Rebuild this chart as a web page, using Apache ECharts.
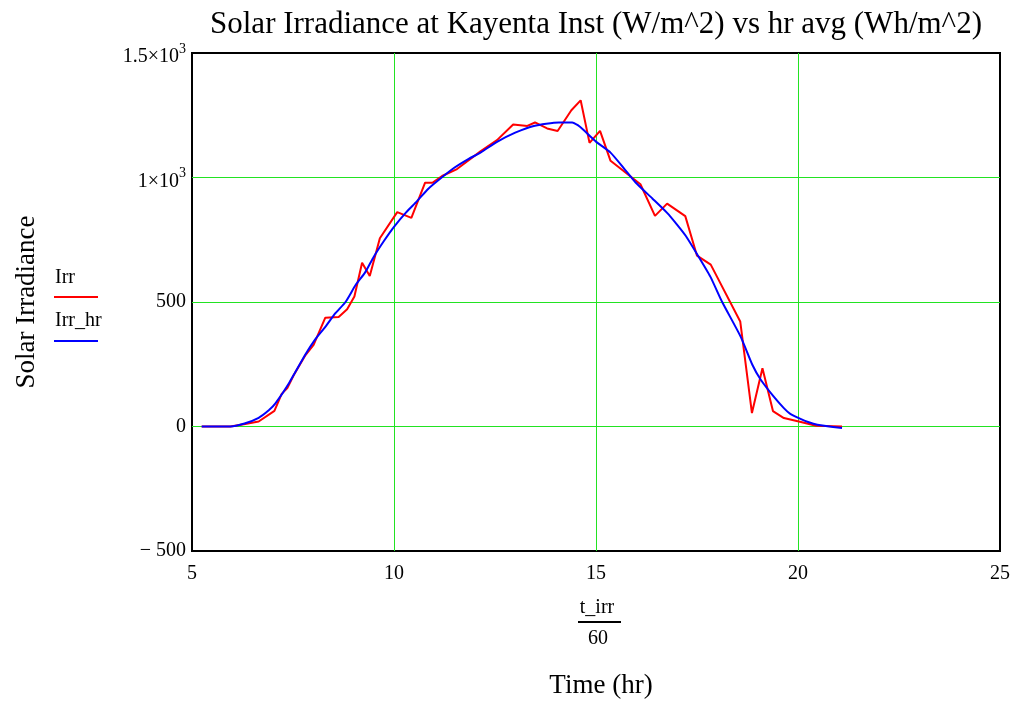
<!DOCTYPE html>
<html>
<head>
<meta charset="utf-8">
<script src="https://cdn.jsdelivr.net/npm/echarts@6/dist/echarts.min.js"></script>
<style>
  html, body { margin: 0; padding: 0; background: #fff; }
  #chart { width: 1020px; height: 702px; }
</style>
</head>
<body>
<div id="chart"></div>
<script>
// Instantaneous irradiance readings: time of day (hr) and W/m^2
const irrTime = [5.24, 5.95, 6.32, 6.65, 7.04, 7.22, 7.36, 7.52, 7.81, 8.01, 8.30, 8.63, 8.84, 9.02, 9.21, 9.40, 9.65, 10.08, 10.43, 10.77, 10.95, 11.19, 11.56, 12.14, 12.55, 12.95, 13.30, 13.49, 13.79, 14.05, 14.39, 14.62, 14.84, 15.10, 15.36, 16.10, 16.46, 16.76, 17.21, 17.50, 17.84, 18.57, 18.86, 19.12, 19.38, 19.65, 20.02, 20.45, 21.09];
const irrValue = [0, 0, 10, 20, 63, 131, 154, 207, 287, 328, 437, 440, 471, 522, 658, 604, 756, 861, 838, 979, 979, 1006, 1034, 1105, 1150, 1213, 1207, 1221, 1197, 1187, 1270, 1310, 1139, 1187, 1067, 973, 846, 895, 845, 686, 650, 422, 54, 234, 62, 34, 20, 3, 0];

// Hourly running average of the same readings (Wh/m^2)
const hrTime = [5.24, 5.95, 6.30, 6.65, 6.90, 7.07, 7.40, 7.81, 8.05, 8.30, 8.55, 8.80, 9.05, 9.29, 9.50, 9.75, 10.00, 10.30, 10.57, 10.85, 11.15, 11.50, 11.85, 12.14, 12.55, 13.00, 13.46, 14.08, 14.41, 14.55, 14.70, 14.86, 15.03, 15.36, 15.70, 15.98, 16.40, 16.76, 17.00, 17.22, 17.51, 17.83, 18.12, 18.58, 18.87, 19.07, 19.40, 19.65, 19.80, 20.02, 20.25, 20.48, 21.09];
const hrValue = [0, 0, 12, 35, 65, 94, 174, 290, 350, 400, 455, 500, 568, 620, 682, 745, 802, 860, 905, 955, 996, 1040, 1075, 1100, 1143, 1180, 1207, 1221, 1221, 1210, 1190, 1165, 1140, 1100, 1035, 980, 915, 858, 812, 766, 690, 602, 501, 361, 248, 190, 120, 74, 52, 34, 18, 7, -6];

const xTicks = [5, 10, 15, 20, 25];
const yTicks = [-500, 0, 500, 1000, 1500];

const serif = '"Liberation Serif", "DejaVu Serif", serif';
const gridGreen = '#22e322';

function pairs(xs, ys) { return xs.map((x, i) => [x, ys[i]]); }

function yLabel(v) {
  if (v === 1500) return '{base|1.5×10}{sup|3}';
  if (v === 1000) return '{base|1×10}{sup|3}';
  if (v < 0) return '− ' + Math.abs(v);
  return String(v);
}

const chart = echarts.init(document.getElementById('chart'), null, { renderer: 'canvas' });

chart.setOption({
  animation: false,
  backgroundColor: '#ffffff',
  title: {
    text: 'Solar Irradiance at Kayenta Inst (W/m^2) vs hr avg (Wh/m^2)',
    left: 591,
    top: 4,
    textAlign: 'center',
    textStyle: { fontFamily: serif, fontWeight: 'normal', fontSize: 31, color: '#000' }
  },
  grid: {
    left: 192, right: 20, top: 53, bottom: 151,
    show: true, borderColor: '#000', borderWidth: 2, backgroundColor: 'transparent'
  },
  xAxis: {
    type: 'value',
    min: xTicks[0], max: xTicks[xTicks.length - 1], interval: 5,
    axisLine: { show: false },
    axisTick: { show: false },
    axisLabel: { fontFamily: serif, fontSize: 20, color: '#000', margin: 13 },
    splitLine: { show: true, showMinLine: false, showMaxLine: false, lineStyle: { color: gridGreen, width: 1 } }
  },
  yAxis: {
    type: 'value',
    min: yTicks[0], max: yTicks[yTicks.length - 1], interval: 500,
    name: 'Solar Irradiance',
    nameLocation: 'middle',
    nameGap: 152,
    nameRotate: 90,
    nameTextStyle: { fontFamily: serif, fontSize: 27, color: '#000' },
    axisLine: { show: false },
    axisTick: { show: false },
    axisLabel: {
      fontFamily: serif, fontSize: 20, color: '#000', margin: 6,
      formatter: yLabel,
      rich: {
        base: { fontFamily: serif, fontSize: 20, color: '#000', padding: [8, 0, 0, 0] },
        sup: { fontFamily: serif, fontSize: 14, color: '#000', padding: [0, 0, 8, 0] }
      }
    },
    splitLine: { show: true, showMinLine: false, showMaxLine: false, lineStyle: { color: gridGreen, width: 1 } }
  },
  series: [
    {
      name: 'Irr',
      type: 'line',
      data: pairs(irrTime, irrValue),
      showSymbol: false,
      lineStyle: { color: '#ff0000', width: 2 },
      itemStyle: { color: '#ff0000' },
      z: 3
    },
    {
      name: 'Irr_hr',
      type: 'line',
      data: pairs(hrTime, hrValue),
      showSymbol: false,
      smooth: 0.2,
      lineStyle: { color: '#0000ff', width: 2 },
      itemStyle: { color: '#0000ff' },
      z: 4
    }
  ],
  graphic: [
    // legend
    { type: 'text', left: 55, top: 268, style: { text: 'Irr', font: '20px ' + serif, fill: '#000' } },
    { type: 'line', shape: { x1: 54, y1: 297, x2: 98, y2: 297 }, style: { stroke: '#ff0000', lineWidth: 2 } },
    { type: 'text', left: 55, top: 311, style: { text: 'Irr_hr', font: '20px ' + serif, fill: '#000' } },
    { type: 'line', shape: { x1: 54, y1: 341, x2: 98, y2: 341 }, style: { stroke: '#0000ff', lineWidth: 2 } },
    // x-axis expression t_irr / 60 and its caption
    { type: 'text', x: 597, y: 608, style: { text: 't_irr', font: '20px ' + serif, fill: '#000', align: 'center', verticalAlign: 'middle' } },
    { type: 'line', shape: { x1: 578, y1: 622, x2: 621, y2: 622 }, style: { stroke: '#000', lineWidth: 2 } },
    { type: 'text', x: 598, y: 639, style: { text: '60', font: '20px ' + serif, fill: '#000', align: 'center', verticalAlign: 'middle' } },
    { type: 'text', x: 601, y: 686, style: { text: 'Time (hr)', font: '27px ' + serif, fill: '#000', align: 'center', verticalAlign: 'middle' } }
  ]
});
</script>
</body>
</html>
